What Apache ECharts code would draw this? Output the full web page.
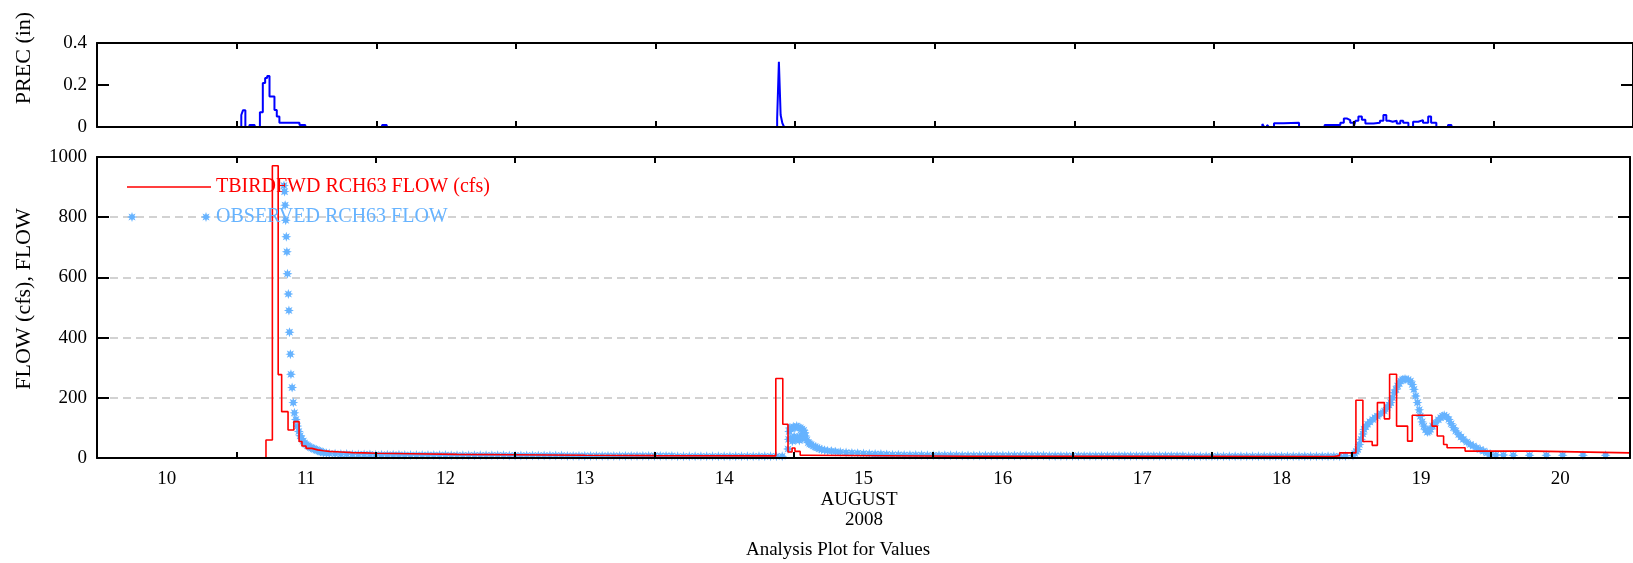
<!DOCTYPE html>
<html>
<head>
<meta charset="utf-8">
<title>Analysis Plot for Values</title>
<script src="https://cdn.jsdelivr.net/npm/echarts@6/dist/echarts.min.js"></script>
<style>
  html, body { margin: 0; padding: 0; background: #fff; }
  #chart { width: 1633px; height: 563px; }
</style>
</head>
<body>
<div id="chart"></div>
<script>
// x values are hours since 2008-08-10 00:00, the axis runs to Aug 21 00:00
const dayLabels = ['10', '11', '12', '13', '14', '15', '16', '17', '18', '19', '20']
const precTicks = ['0', '0.2', '0.4']

// precipitation (in), step values [hour, value]
const precip = [
  [0, 0], [24.8, 0.057], [25.1, 0.08], [25.5, 0], [26.2, 0.01], [27.1, 0],
  [28.0, 0.07], [28.5, 0.21], [28.9, 0.233], [29.25, 0.243], [29.65, 0.145],
  [30.5, 0.081], [30.9, 0.05], [31.35, 0.02], [34.8, 0.01], [35.8, 0],
  [49.0, 0.01], [49.8, 0],
  [116.9, 0.04], [117.2, 0.31], [117.5, 0.057], [117.8, 0.018], [118.1, 0],
  [200.3, 0.014], [200.6, 0], [201.1, 0.01], [201.4, 0], [202.3, 0.018], [203.9, 0.02],
  [206.6, 0], [211.0, 0.01], [213.7, 0.02], [214.3, 0.041], [214.8, 0.033], [215.4, 0.02],
  [216.0, 0], [216.3, 0.03], [216.8, 0.05], [217.4, 0.035], [218.0, 0.017], [219.4, 0.02],
  [220.5, 0.03], [221.1, 0.057], [221.6, 0.03], [222.1, 0.025], [222.7, 0.03], [223.4, 0.017],
  [224.0, 0.03], [224.5, 0.02], [225.4, 0], [226.2, 0.025], [227.1, 0.033], [227.9, 0.02],
  [228.8, 0.05], [229.3, 0.02], [230.2, 0], [232.2, 0.01], [232.8, 0], [264, 0]
]

// simulated flow (cfs), step values [hour, value]
const simFlow = [
  [0, 0], [29.1, 60], [30.2, 971], [31.2, 277], [31.8, 154], [32.9, 93], [33.9, 121],
  [34.8, 55], [35.3, 40], [36, 32], [37, 27], [38, 24], [39, 22], [40, 20], [42, 18],
  [44, 17], [46, 16], [48, 14], [54, 12], [62, 11], [72, 9], [84, 8], [96, 7],
  [116.9, 264], [118.1, 112], [119.0, 20], [119.7, 33], [120.2, 22], [121.1, 9], [122.2, 6],
  [150, 6], [180, 5], [213, 8], [214, 17],
  [216.8, 192], [218.0, 55], [219.6, 42], [220.5, 184], [221.7, 130], [222.6, 278],
  [223.8, 106], [225.7, 56], [226.5, 142], [229.9, 106], [230.8, 73], [231.9, 45],
  [232.5, 34], [235.6, 23], [247.6, 17], [264, 17]
]

// observed flow (cfs)
const obsAug11 = [
  [32.2, 905], [32.3, 885], [32.4, 840], [32.5, 790], [32.6, 735], [32.7, 685], [32.8, 612],
  [32.95, 545], [33.05, 490], [33.15, 418], [33.3, 345], [33.4, 278], [33.6, 234], [33.8, 184],
  [34.0, 150], [34.25, 128], [34.5, 106], [34.75, 88], [35.0, 74], [35.25, 64], [35.5, 56],
  [35.75, 50], [36.0, 45], [36.25, 41], [36.5, 38], [36.75, 35], [37.0, 33], [37.25, 31],
  [37.5, 29], [37.75, 27], [38.0, 25], [38.25, 23], [38.5, 21], [38.75, 20], [39.0, 18],
  [39.5, 16], [40.0, 15]
]
const obsBase1Start = 41 // hourly
const obsBase1 = [
  14, 13, 13, 12, 12, 12, 12, 11,
  11, 11, 11, 11, 10, 10, 10, 10, 10, 10, 10, 10, 9, 9, 9, 9, 9, 9, 9, 9, 9, 9, 8, 8,
  8, 8, 8, 8, 8, 8, 8, 8, 7, 7, 7, 7, 7, 7, 7, 7, 7, 7, 7, 7, 7, 7, 7, 7,
  7, 7, 7, 6, 6, 6, 6, 6, 6, 6, 6, 6, 6, 6, 6, 6, 6, 6, 6, 6, 6, 6
]
const obsAug14 = [
  [119.0, 30], [119.1, 62], [119.2, 88], [119.3, 100], [119.45, 66], [119.6, 98], [119.75, 56],
  [119.9, 104], [120.05, 72], [120.2, 100], [120.35, 60], [120.5, 106], [120.65, 68],
  [120.8, 102], [120.95, 58], [121.1, 100], [121.25, 76], [121.4, 96], [121.55, 64],
  [121.7, 92], [121.85, 84], [122.0, 73], [122.25, 60], [122.5, 51], [122.75, 47], [123.0, 44],
  [123.35, 40], [123.7, 37], [124.0, 34], [124.4, 31], [124.8, 28], [125.3, 26], [125.8, 24],
  [126.5, 23], [127.2, 21], [128, 20], [129, 18], [130, 17], [131, 16], [132, 15], [133, 14],
  [134, 13], [135, 13], [136, 12]
]
const obsBase2Start = 137 // hourly
const obsBase2 = [
  11, 11, 10, 10, 10, 10, 9, 9, 9, 9, 9, 9, 8, 8, 8, 8, 8, 8, 8, 8, 8, 8, 8, 8,
  8, 8, 8, 7, 7, 7, 7, 7, 7, 7, 7, 7, 7, 7, 7, 7, 7, 7, 7, 7, 7, 7, 7, 7,
  7, 7, 7, 6, 6, 6, 6, 6, 6, 6, 6, 6, 6, 6, 6, 6, 6, 6, 6, 6, 6, 6, 6, 6,
  6, 6, 6, 6, 6, 6, 7
]
const obsAug18 = [
  [216.3, 8], [216.6, 15], [216.85, 22], [217.1, 28], [217.4, 45], [217.7, 62], [218.0, 80],
  [218.2, 95], [218.5, 104], [218.8, 112], [219.2, 120], [219.7, 128], [220.1, 134],
  [220.5, 139], [221.1, 148], [221.7, 156], [222.2, 168], [222.5, 176], [222.8, 184],
  [223.1, 200], [223.4, 217], [223.7, 228], [224.0, 239], [224.25, 248], [224.5, 256],
  [224.8, 260], [225.1, 262], [225.4, 262], [225.8, 260], [226.2, 256], [226.5, 244],
  [226.8, 228], [227.1, 206], [227.4, 184], [227.7, 160], [227.9, 139], [228.2, 120],
  [228.5, 106], [228.8, 94], [229.1, 86], [229.4, 88], [229.6, 95], [230.0, 106], [230.5, 117],
  [231.0, 127], [231.4, 134], [231.7, 139], [232.0, 142], [232.4, 138], [232.8, 128],
  [233.2, 114], [233.6, 101], [234.0, 90], [234.5, 78], [234.9, 70], [235.3, 62], [235.9, 53],
  [236.5, 45], [237.0, 40], [237.6, 34], [238.2, 28], [238.8, 23], [239.4, 17], [239.9, 12]
]
const obsLate = [
  [240.9, 10], [242.2, 10], [243.9, 9], [246.7, 9], [249.6, 9], [252.4, 9], [255.9, 9], [259.8, 9]
]

const obsFlow = [].concat(
  obsAug11,
  obsBase1.map((v, i) => [obsBase1Start + i, v]),
  obsAug14,
  obsBase2.map((v, i) => [obsBase2Start + i, v]),
  obsAug18,
  obsLate
)

const star = 'path://M10,0L11.91,5.38L17.07,2.93L14.62,8.09L20,10L14.62,11.91L17.07,17.07L11.91,14.62L10,20L8.09,14.62L2.93,17.07L5.38,11.91L0,10L5.38,8.09L2.93,2.93L8.09,5.38Z'
// legend swatches are 84 x 10: two asterisks at the ends, and a thin line
const twoStars = star +
  'M158,0L159.91,5.38L165.07,2.93L162.62,8.09L168,10L162.62,11.91L165.07,17.07L159.91,14.62L158,20L156.09,14.62L150.93,17.07L153.38,11.91L148,10L153.38,8.09L150.93,2.93L156.09,5.38Z'
const thinLine = 'path://M0,0L0.01,0L0,0.01ZM0,4.2H84V5.8H0ZM84,10L83.99,10L84,9.99Z'

const font = 'Liberation Serif'
const obsColor = '#66b3ff'

function frameX(grid, position, extra) {
  return Object.assign({
    type: 'value',
    gridIndex: grid,
    position: position,
    min: 0,
    max: 264,
    interval: 24,
    z: 5,
    axisLine: { onZero: false, lineStyle: { color: '#000', width: 2 } },
    axisTick: { inside: true, length: 6, lineStyle: { color: '#000', width: 2 } },
    axisLabel: { show: false },
    splitLine: { show: false }
  }, extra)
}

function frameY(grid, position, min, max, interval, extra) {
  return Object.assign({
    type: 'value',
    gridIndex: grid,
    position: position,
    min: min,
    max: max,
    interval: interval,
    axisLine: { onZero: false, lineStyle: { color: '#000', width: 2 } },
    axisTick: { inside: true, length: 12, lineStyle: { color: '#000', width: 2 } },
    axisLabel: { show: false },
    splitLine: { show: false }
  }, extra)
}

const labelStyle = { show: true, color: '#000', fontFamily: font, fontSize: 19, margin: 10 }

const chart = echarts.init(document.getElementById('chart'))

chart.setOption({
  animation: false,
  backgroundColor: '#fff',
  textStyle: { fontFamily: font },
  grid: [
    { left: 97, right: -8, top: 43, height: 84 },
    { left: 97, right: -8, top: 157, height: 301 }
  ],
  xAxis: [
    frameX(1, 'bottom'),
    frameX(1, 'top'),
    frameX(1, 'bottom', {
      interval: 12,
      axisLine: { show: false },
      axisTick: { show: false },
      axisLabel: {
        show: true, color: '#000', fontFamily: font, fontSize: 19, margin: 12,
        formatter: v => (v % 24 === 12 ? dayLabels[(v - 12) / 24] : '')
      }
    }),
    frameX(0, 'bottom'),
    frameX(0, 'top')
  ],
  yAxis: [
    frameY(0, 'left', 0, 0.4, 0.2, {
      axisLabel: Object.assign({}, labelStyle, { formatter: v => precTicks[Math.round(v / 0.2)] })
    }),
    frameY(0, 'right', 0, 0.4, 0.2),
    frameY(1, 'left', 0, 1000, 200, {
      axisLabel: Object.assign({}, labelStyle, { formatter: v => String(v) }),
      splitLine: { show: true, lineStyle: { color: '#c4c4c4', width: 1.5, type: [8, 5] } }
    }),
    frameY(1, 'right', 0, 1000, 200)
  ],
  legend: {
    orient: 'vertical',
    left: 122,
    top: 172,
    itemWidth: 84,
    itemHeight: 10,
    itemGap: 10,
    selectedMode: false,
    textStyle: { fontFamily: font, fontSize: 20 },
    data: [
      { name: 'TBIRDFWD RCH63 FLOW (cfs)', icon: thinLine, itemStyle: { color: '#ff0000' }, textStyle: { color: '#ff0000' } },
      { name: 'OBSERVED RCH63 FLOW', icon: twoStars, itemStyle: { color: obsColor }, textStyle: { color: obsColor } }
    ]
  },
  graphic: [
    {
      type: 'text', x: 24, y: 58, rotation: Math.PI / 2,
      style: { text: 'PREC (in)', font: '22px "Liberation Serif"', fill: '#000',
        align: 'center', verticalAlign: 'middle', textAlign: 'center', textVerticalAlign: 'middle' }
    },
    {
      type: 'text', x: 24, y: 299, rotation: Math.PI / 2,
      style: { text: 'FLOW (cfs), FLOW', font: '22px "Liberation Serif"', fill: '#000',
        align: 'center', verticalAlign: 'middle', textAlign: 'center', textVerticalAlign: 'middle' }
    },
    {
      type: 'text', x: 859, y: 500,
      style: { text: 'AUGUST', font: '19px "Liberation Serif"', fill: '#000',
        align: 'center', verticalAlign: 'middle', textAlign: 'center', textVerticalAlign: 'middle' }
    },
    {
      type: 'text', x: 864, y: 520,
      style: { text: '2008', font: '19px "Liberation Serif"', fill: '#000',
        align: 'center', verticalAlign: 'middle', textAlign: 'center', textVerticalAlign: 'middle' }
    },
    {
      type: 'text', x: 838, y: 550,
      style: { text: 'Analysis Plot for Values', font: '19px "Liberation Serif"', fill: '#000',
        align: 'center', verticalAlign: 'middle', textAlign: 'center', textVerticalAlign: 'middle' }
    }
  ],
  series: [
    {
      name: 'PREC',
      type: 'line',
      step: 'end',
      xAxisIndex: 3,
      yAxisIndex: 0,
      symbol: 'none',
      lineStyle: { color: '#0000ff', width: 2 },
      data: precip
    },
    {
      name: 'TBIRDFWD RCH63 FLOW (cfs)',
      type: 'line',
      step: 'end',
      xAxisIndex: 0,
      yAxisIndex: 2,
      symbol: 'none',
      color: '#ff0000',
      lineStyle: { color: '#ff0000', width: 1.6 },
      data: simFlow
    },
    {
      name: 'OBSERVED RCH63 FLOW',
      type: 'scatter',
      xAxisIndex: 0,
      yAxisIndex: 2,
      symbol: star,
      symbolSize: 10,
      itemStyle: { color: obsColor, opacity: 1 },
      data: obsFlow
    }
  ]
})
</script>
</body>
</html>
